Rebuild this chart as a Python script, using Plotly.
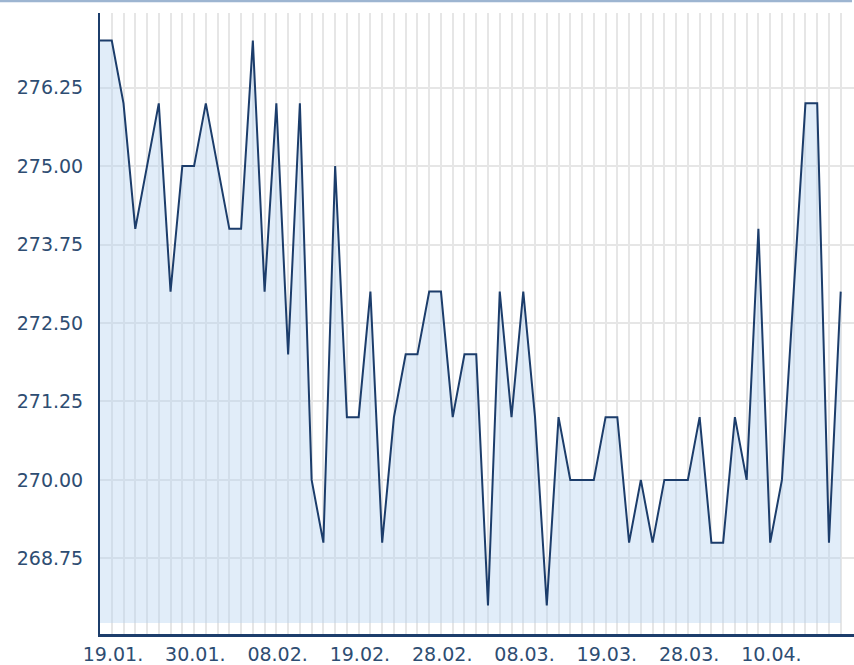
import plotly.graph_objects as go

# ---- data ----
dates = [
    "19.01.", "22.01.", "23.01.", "24.01.", "25.01.", "26.01.", "29.01.", "30.01.", "31.01.",
    "01.02.", "02.02.", "05.02.", "06.02.", "07.02.", "08.02.", "09.02.", "12.02.", "13.02.",
    "14.02.", "15.02.", "16.02.", "19.02.", "20.02.", "21.02.", "22.02.", "23.02.", "26.02.",
    "27.02.", "28.02.", "29.02.", "01.03.", "04.03.", "05.03.", "06.03.", "07.03.", "08.03.",
    "11.03.", "12.03.", "13.03.", "14.03.", "15.03.", "18.03.", "19.03.", "20.03.", "21.03.",
    "22.03.", "25.03.", "26.03.", "27.03.", "28.03.", "02.04.", "03.04.", "04.04.", "05.04.",
    "08.04.", "09.04.", "10.04.", "11.04.", "12.04.", "15.04.", "16.04.", "17.04.", "18.04.",
    "19.04.",
]
values = [
    277, 277, 276, 274, 275, 276, 273, 275, 275, 276, 275, 274, 274, 277, 273, 276,
    272, 276, 270, 269, 275, 271, 271, 273, 269, 271, 272, 272, 273, 273, 271, 272,
    272, 268, 273, 271, 273, 271, 268, 271, 270, 270, 270, 271, 271, 269, 270, 269,
    270, 270, 270, 271, 269, 269, 271, 270, 274, 269, 270, 273, 276, 276, 269, 273,
]
label_dates = ["19.01.", "30.01.", "08.02.", "19.02.", "28.02.", "08.03.", "19.03.", "28.03.", "10.04."]
y_ticks = [268.75, 270.00, 271.25, 272.50, 273.75, 275.00, 276.25]

Y_MIN, Y_MAX = 267.544, 277.44
FILL_BASE = 267.72
X_MAX = 64.13

idx = list(range(len(values)))
ticktext = [d if d in label_dates else "" for d in dates]

TEXT = "#2e4d72"
NAVY = "#1c3d6b"

fig = go.Figure()
fig.add_trace(go.Scatter(
    x=idx, y=[FILL_BASE] * len(idx), mode="lines",
    line=dict(width=0, color="rgba(0,0,0,0)"), showlegend=False, hoverinfo="skip"))
fig.add_trace(go.Scatter(
    x=idx, y=values, mode="lines", fill="tonexty",
    fillcolor="rgba(180,210,240,0.4)",
    line=dict(color=NAVY, width=2), showlegend=False,
    customdata=dates, hovertemplate="%{customdata}: %{y:.2f}<extra></extra>"))

fig.update_layout(
    width=854, height=665,
    margin=dict(l=100, r=0, t=13, b=31, autoexpand=False),
    paper_bgcolor="white", plot_bgcolor="white",
    font=dict(family="Verdana, DejaVu Sans, sans-serif", size=19, color=TEXT),
    showlegend=False,
)
fig.update_xaxes(
    range=[0, X_MAX], tickmode="array", tickvals=idx, ticktext=ticktext,
    showgrid=True, gridcolor="#e6e6e6", gridwidth=1.5,
    showline=True, linecolor=NAVY, linewidth=2.5,
    ticks="", ticklabelshift=13, ticklabelstandoff=1,
    layer="below traces", zeroline=False, automargin=False,
)
fig.update_yaxes(
    range=[Y_MIN, Y_MAX], tickmode="array", tickvals=y_ticks,
    ticktext=[f"{v:.2f}" for v in y_ticks],
    showgrid=True, gridcolor="#e6e6e6", gridwidth=1.5,
    showline=True, linecolor=NAVY, linewidth=2,
    ticks="", ticklabelstandoff=11,
    layer="below traces", zeroline=False, automargin=False,
)
fig.add_shape(type="line", xref="paper", yref="paper",
              x0=-100 / 754, x1=752 / 754, y0=1 + 12 / 621, y1=1 + 12 / 621,
              line=dict(color="#9db5d1", width=2.5))

fig.write_html("out.html", config={"displayModeBar": False},
               post_script="document.body.style.margin='0';document.body.style.overflow='hidden';")
